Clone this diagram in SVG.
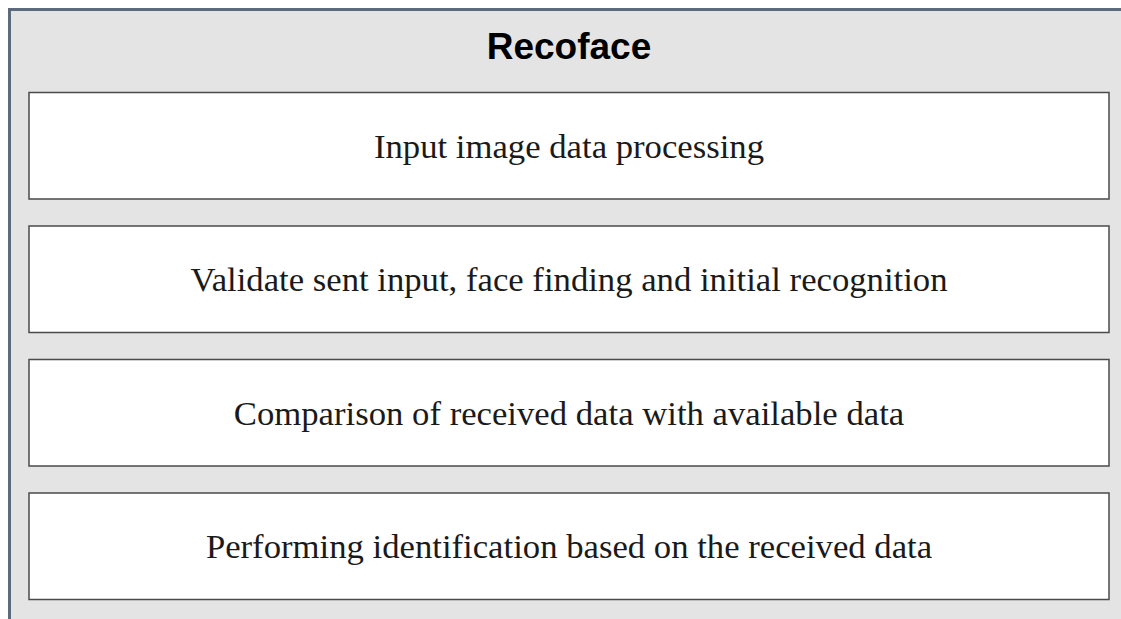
<svg xmlns="http://www.w3.org/2000/svg" width="1121" height="619" viewBox="0 0 1121 619">
<style>
.frame{fill:#e4e4e4;stroke:#5b6b7b;stroke-width:3}
.box{fill:#ffffff;stroke:#4a4a4a;stroke-width:1.5}
.lbl{font-family:"Liberation Serif","Times New Roman",serif;font-size:34.7px;fill:#1a1a1a;text-anchor:middle;dominant-baseline:central}
.title{font-family:"Liberation Sans",Arial,sans-serif;font-weight:bold;font-size:37px;fill:#000;text-anchor:middle;dominant-baseline:central}
</style>
<rect width="1121" height="619" fill="#ffffff"/>
<g id="container">
<rect class="frame" x="9.5" y="9.5" width="1130" height="630"/>
<text class="title" x="569" y="46">Recoface</text>
</g>
<g id="node1"><rect class="box" x="29" y="92.5" width="1080" height="106.5"/><text class="lbl" x="569" y="146">Input image data processing</text></g>
<g id="node2"><rect class="box" x="29" y="226" width="1080" height="106.5"/><text class="lbl" x="569" y="279">Validate sent input, face finding and initial recognition</text></g>
<g id="node3"><rect class="box" x="29" y="359.5" width="1080" height="106.5"/><text class="lbl" x="569" y="413">Comparison of received data with available data</text></g>
<g id="node4"><rect class="box" x="29" y="493" width="1080" height="106.5"/><text class="lbl" x="569" y="546">Performing identification based on the received data</text></g>
<g id="connectors"></g>
</svg>
